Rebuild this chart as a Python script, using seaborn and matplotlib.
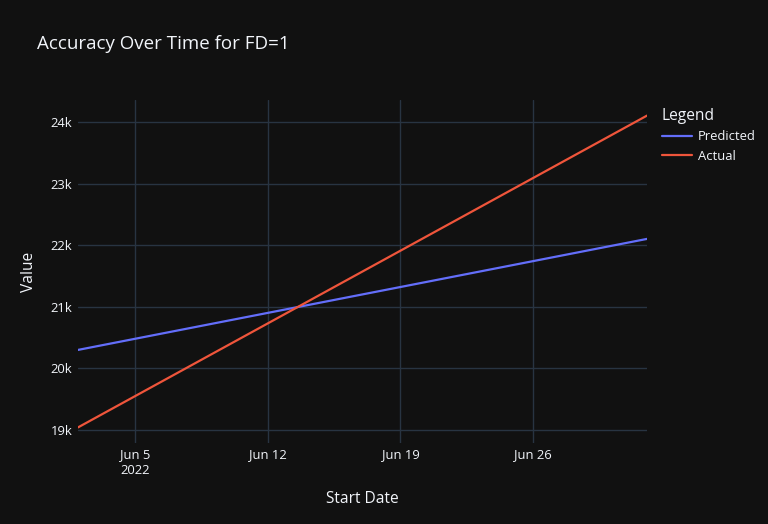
import matplotlib
matplotlib.use("Agg")
import matplotlib.pyplot as plt
import seaborn as sns
import pandas as pd
from matplotlib.ticker import FuncFormatter

dates = ["2022-06-02", "2022-07-02"]
predicted = [20300, 22105]
actual = [19040, 24110]
series_names = ["Predicted", "Actual"]
title = "Accuracy Over Time for FD=1"
x_tick_dates = ["2022-06-05", "2022-06-12", "2022-06-19", "2022-06-26"]
x_tick_labels = ["Jun 5\n2022", "Jun 12", "Jun 19", "Jun 26"]
y_ticks = [19000, 20000, 21000, 22000, 23000, 24000]

df = pd.concat([
    pd.DataFrame({"Start Date": pd.to_datetime(dates), "Value": predicted, "Legend": series_names[0]}),
    pd.DataFrame({"Start Date": pd.to_datetime(dates), "Value": actual, "Legend": series_names[1]}),
])

BG = "#111111"
GRID = "#283442"
TXT = "#f2f5fa"

sns.set_theme(style="dark")
plt.rcParams["font.family"] = ["Open Sans", "DejaVu Sans"]

fig = plt.figure(figsize=(7.68, 5.24), dpi=100, facecolor=BG)
ax = fig.add_axes([78/768, 1-443/524, (647-78)/768, (443-100)/524])
ax.set_facecolor(BG)

sns.lineplot(data=df, x="Start Date", y="Value", hue="Legend",
             palette={"Predicted": "#636efa", "Actual": "#EF553B"},
             linewidth=1.6, ax=ax, legend=True)

ax.set_xlim(pd.to_datetime(dates[0]), pd.to_datetime(dates[-1]))
lo = min(min(predicted), min(actual))
hi = max(max(predicted), max(actual))
pad = (hi - lo) * 0.05
ax.set_ylim(lo - pad, hi + pad)

ax.set_xticks(pd.to_datetime(x_tick_dates))
ax.set_xticklabels(x_tick_labels, linespacing=1.25, va="top")
ax.set_yticks(y_ticks)
ax.yaxis.set_major_formatter(FuncFormatter(lambda v, p: f"{int(v/1000)}k"))

ax.grid(True, color=GRID, linewidth=1)
ax.tick_params(axis="both", colors=TXT, labelsize=9.4, length=0)
ax.tick_params(axis="x", pad=4)
ax.tick_params(axis="y", pad=4)
for s in ax.spines.values():
    s.set_visible(False)

ax.set_xlabel("Start Date", color=TXT, fontsize=11.2, labelpad=10)
ax.set_ylabel("Value", color=TXT, fontsize=11.2, labelpad=10)

fig.text(37/768, 1-44/524, title, color=TXT, fontsize=13.5, va="center", ha="left")

leg = ax.legend(title="Legend", loc="upper left", bbox_to_anchor=(1.012, 1.0),
                frameon=False, fontsize=9.4, title_fontsize=11.2,
                handlelength=2.3, handletextpad=0.5, labelspacing=0.5,
                borderaxespad=0.2)
leg._legend_box.align = "left"
plt.setp(leg.get_texts(), color=TXT)
leg.get_title().set_color(TXT)

fig.savefig("out.png", dpi=100, facecolor=BG)
